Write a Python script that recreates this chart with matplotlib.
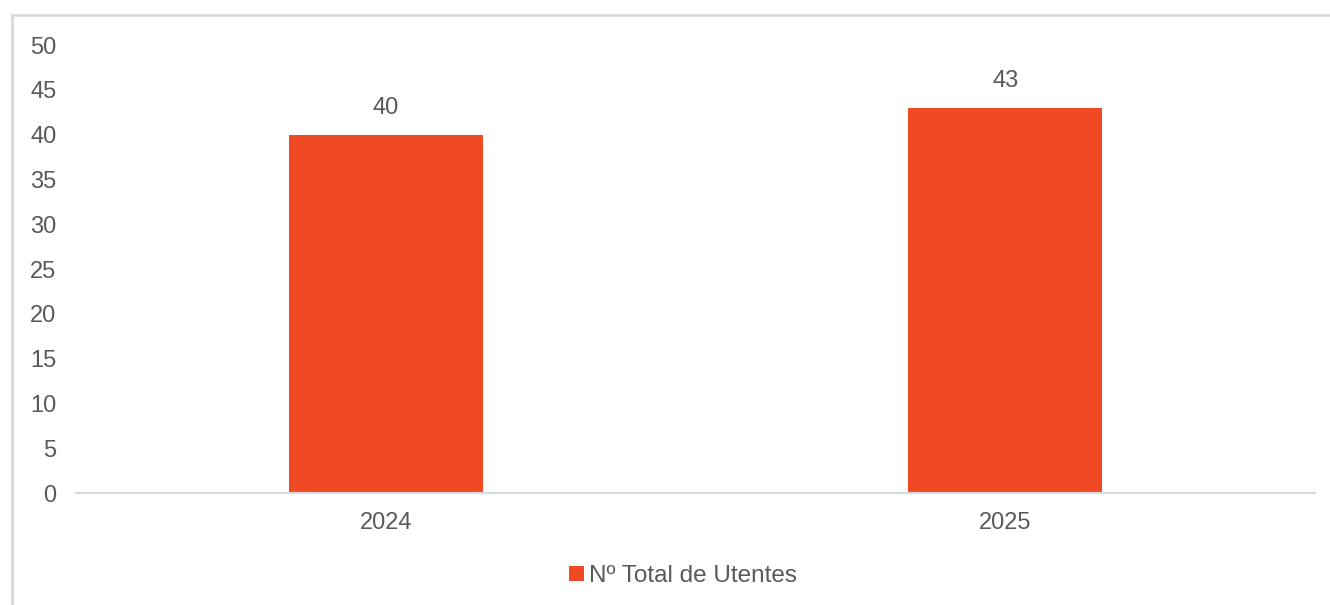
import matplotlib.pyplot as plt
from matplotlib.patches import Rectangle

years = ["2024", "2025"]
utentes = [40, 43]
y_ticks = [0, 5, 10, 15, 20, 25, 30, 35, 40, 45, 50]
legend_label = "Nº Total de Utentes"

BAR_COLOR = "#EF4A24"
TEXT_COLOR = "#595959"
LINE_COLOR = "#D9D9D9"

plt.rcParams["font.family"] = ["Liberation Sans", "DejaVu Sans"]

fig = plt.figure(figsize=(13.3, 6.05), dpi=100)
ax = fig.add_axes([76 / 1330, 1 - 493 / 605, (1315 - 76) / 1330, (493 - 45) / 605])

x = list(range(len(years)))
bars = ax.bar(x, utentes, width=0.313, color=BAR_COLOR, label=legend_label, zorder=2)

for rect, val in zip(bars, utentes):
    ax.annotate(str(val), (rect.get_x() + rect.get_width() / 2, val),
                xytext=(0, 11), textcoords="offset points",
                ha="center", va="bottom", fontsize=17, color=TEXT_COLOR)

ax.set_xlim(-0.5, len(years) - 0.5)
ax.set_ylim(0, 50)
ax.set_yticks(y_ticks)
ax.set_xticks(x)
ax.set_xticklabels(years)
ax.tick_params(axis="both", length=0, labelsize=17, colors=TEXT_COLOR)
ax.tick_params(axis="y", pad=14)
ax.tick_params(axis="x", pad=14)

for side in ["top", "right", "left"]:
    ax.spines[side].set_visible(False)
ax.spines["bottom"].set_color(LINE_COLOR)
ax.spines["bottom"].set_linewidth(1.5)

fig.legend(handles=[bars], labels=[legend_label], loc="center",
           bbox_to_anchor=(683 / 1330, 1 - 576 / 605), frameon=False,
           fontsize=17.5, handlelength=0.6, handleheight=0.6, handletextpad=0.2,
           labelcolor=TEXT_COLOR)

# outer chart-area border (only left/top edges fall inside the picture)
fig.patches.append(Rectangle((12 / 1330, -0.1), 1.1, 1 - 15 / 605 + 0.1,
                             transform=fig.transFigure, fill=False,
                             edgecolor=LINE_COLOR, linewidth=2))

fig.savefig("out.png", dpi=100)
